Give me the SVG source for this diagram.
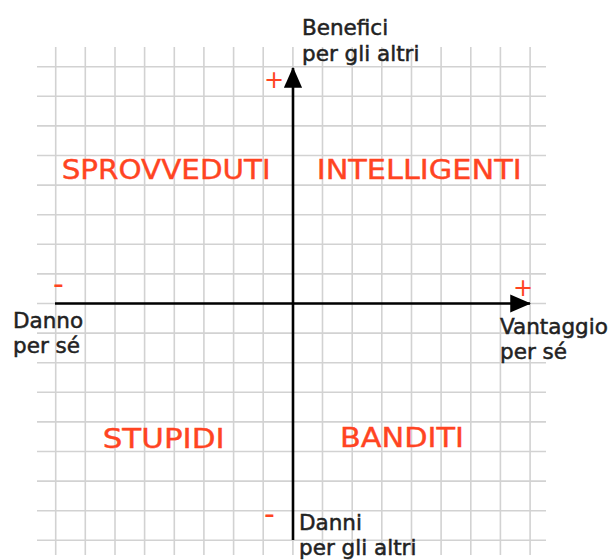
<svg xmlns="http://www.w3.org/2000/svg" width="614" height="560" viewBox="0 0 614 560">
<style>
.grid line{stroke:#d2d2d2;stroke-width:1.6}
.axis{stroke:#000;stroke-width:2.6;fill:none}
.lbl{font-family:"DejaVu Sans",Verdana,sans-serif;font-size:21.5px;fill:#222;stroke:#222;stroke-width:0.5}
.cat{font-family:"DejaVu Sans",Verdana,sans-serif;font-size:27px;fill:#ff4422;stroke:#ff4422;stroke-width:0.4}
.sign{font-family:"DejaVu Sans",Verdana,sans-serif;fill:#ff4422}
</style>
<defs>
<marker id="arr" markerWidth="8" markerHeight="7" refX="7.6" refY="3.5" orient="auto" markerUnits="strokeWidth" viewBox="0 0 8 7">
<path d="M0,0 L8,3.5 L0,7 Z" fill="#000"/>
</marker>
</defs>
<rect width="614" height="560" fill="#fff"/>
<g id="grid" class="grid">
<line x1="55.7" y1="47" x2="55.7" y2="555"/>
<line x1="85.3" y1="47" x2="85.3" y2="555"/>
<line x1="115" y1="47" x2="115" y2="555"/>
<line x1="144.6" y1="47" x2="144.6" y2="555"/>
<line x1="174.3" y1="47" x2="174.3" y2="555"/>
<line x1="203.9" y1="47" x2="203.9" y2="555"/>
<line x1="233.6" y1="47" x2="233.6" y2="555"/>
<line x1="263.2" y1="47" x2="263.2" y2="555"/>
<line x1="292.9" y1="47" x2="292.9" y2="555"/>
<line x1="322.5" y1="47" x2="322.5" y2="555"/>
<line x1="352.2" y1="47" x2="352.2" y2="555"/>
<line x1="381.8" y1="47" x2="381.8" y2="555"/>
<line x1="411.5" y1="47" x2="411.5" y2="555"/>
<line x1="441.1" y1="47" x2="441.1" y2="555"/>
<line x1="470.8" y1="47" x2="470.8" y2="555"/>
<line x1="500.4" y1="47" x2="500.4" y2="555"/>
<line x1="530.1" y1="47" x2="530.1" y2="555"/>
<line x1="37" y1="66.7" x2="546" y2="66.7"/>
<line x1="37" y1="96.3" x2="546" y2="96.3"/>
<line x1="37" y1="125.9" x2="546" y2="125.9"/>
<line x1="37" y1="155.5" x2="546" y2="155.5"/>
<line x1="37" y1="185.1" x2="546" y2="185.1"/>
<line x1="37" y1="214.7" x2="546" y2="214.7"/>
<line x1="37" y1="244.3" x2="546" y2="244.3"/>
<line x1="37" y1="273.9" x2="546" y2="273.9"/>
<line x1="37" y1="303.5" x2="546" y2="303.5"/>
<line x1="37" y1="333.1" x2="546" y2="333.1"/>
<line x1="37" y1="362.7" x2="546" y2="362.7"/>
<line x1="37" y1="392.3" x2="546" y2="392.3"/>
<line x1="37" y1="421.9" x2="546" y2="421.9"/>
<line x1="37" y1="451.5" x2="546" y2="451.5"/>
<line x1="37" y1="481.1" x2="546" y2="481.1"/>
<line x1="37" y1="510.7" x2="546" y2="510.7"/>
<line x1="37" y1="540.3" x2="546" y2="540.3"/>
</g>
<g id="axes">
<line class="axis" x1="55" y1="303.5" x2="530" y2="303.5" marker-end="url(#arr)"/>
<line class="axis" x1="293" y1="540" x2="293" y2="68" marker-end="url(#arr)"/>
</g>
<g id="label-top">
<text class="lbl" x="302" y="35">Benefici</text>
<text class="lbl" x="302" y="61">per gli altri</text>
</g>
<g id="label-right">
<text class="lbl" x="500" y="334">Vantaggio</text>
<text class="lbl" x="500" y="359">per sé</text>
</g>
<g id="label-left">
<text class="lbl" x="13" y="328">Danno</text>
<text class="lbl" x="13" y="353">per sé</text>
</g>
<g id="label-bottom">
<text class="lbl" x="299" y="530">Danni</text>
<text class="lbl" x="299" y="555">per gli altri</text>
</g>
<g id="signs">
<text class="sign" x="274" y="88" font-size="24" text-anchor="middle">+</text>
<text class="sign" x="523" y="296" font-size="24" text-anchor="middle">+</text>
<text class="sign" x="58.5" y="294" font-size="30" text-anchor="middle">-</text>
<text class="sign" x="269.5" y="524" font-size="30" text-anchor="middle">-</text>
</g>
<g id="q-sprovveduti"><text class="cat" x="61.7" y="179.3" textLength="209" lengthAdjust="spacingAndGlyphs">SPROVVEDUTI</text></g>
<g id="q-intelligenti"><text class="cat" x="316.7" y="179.3" textLength="205" lengthAdjust="spacingAndGlyphs">INTELLIGENTI</text></g>
<g id="q-stupidi"><text class="cat" x="102.7" y="448" textLength="122" lengthAdjust="spacingAndGlyphs">STUPIDI</text></g>
<g id="q-banditi"><text class="cat" x="340" y="446.5" textLength="124" lengthAdjust="spacingAndGlyphs">BANDITI</text></g>
</svg>
